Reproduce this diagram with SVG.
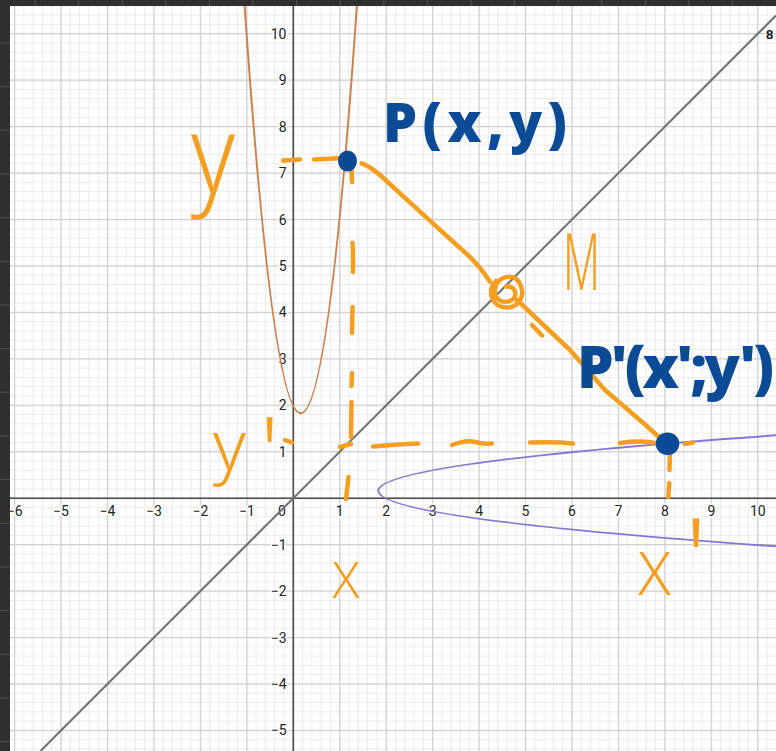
<svg xmlns="http://www.w3.org/2000/svg" width="776" height="751" viewBox="0 0 776 751">
<defs>
<style>
.ax{font-family:"Roboto","Noto Sans",sans-serif;font-size:14px;fill:#222;stroke:#fff;stroke-width:3px;paint-order:stroke;stroke-linejoin:round}
.xl{text-anchor:middle}
.yl{text-anchor:end}
.ink{fill:none;stroke:#f59f22;stroke-width:4.5;stroke-linecap:round;stroke-linejoin:round}
.blue{font-family:"Noto Sans",sans-serif;font-weight:900;fill:#0b4b95}
.orange{font-family:"Noto Sans",sans-serif;font-weight:300;fill:#f59f22}
.dot{fill:#0b4b95}
.div{stroke:#505050;stroke-width:1}
</style>
<pattern id="minor" x="292.8" y="497.7" width="9.29" height="9.29" patternUnits="userSpaceOnUse">
<path d="M0.5,0 V9.29 M0,0.5 H9.29" stroke="#ebebeb" stroke-width="1"/>
</pattern>
<pattern id="major" x="292.7" y="497.6" width="46.45" height="46.45" patternUnits="userSpaceOnUse">
<path d="M0.6,0 V46.45 M0,0.6 H46.45" stroke="#cfcfcf" stroke-width="1.2"/>
</pattern>
</defs>

<g id="grid">
<rect x="0" y="0" width="776" height="751" fill="#ffffff"/>
<rect x="0" y="0" width="776" height="751" fill="url(#minor)"/>
<rect x="0" y="0" width="776" height="751" fill="url(#major)"/>
</g>

<g id="axes">
<line x1="0" y1="498.2" x2="776" y2="498.2" stroke="#4d4d4d" stroke-width="1.6"/>
<line x1="293.3" y1="0" x2="293.3" y2="751" stroke="#4d4d4d" stroke-width="1.6"/>
<g class="ax xl">
<text x="14.6" y="515.5">−6</text>
<text x="61.05" y="515.5">−5</text>
<text x="107.5" y="515.5">−4</text>
<text x="153.95" y="515.5">−3</text>
<text x="200.4" y="515.5">−2</text>
<text x="246.85" y="515.5">−1</text>
<text x="282" y="515.5">0</text>
<text x="339.75" y="515.5">1</text>
<text x="386.2" y="515.5">2</text>
<text x="432.65" y="515.5">3</text>
<text x="479.1" y="515.5">4</text>
<text x="525.55" y="515.5">5</text>
<text x="572" y="515.5">6</text>
<text x="618.45" y="515.5">7</text>
<text x="664.9" y="515.5">8</text>
<text x="711.35" y="515.5">9</text>
<text x="757.8" y="515.5">10</text>
</g>
<g class="ax yl">
<text x="286.5" y="38.7">10</text>
<text x="286.5" y="85.15">9</text>
<text x="286.5" y="131.6">8</text>
<text x="286.5" y="178.05">7</text>
<text x="286.5" y="224.5">6</text>
<text x="286.5" y="270.95">5</text>
<text x="286.5" y="317.4">4</text>
<text x="286.5" y="363.85">3</text>
<text x="286.5" y="410.3">2</text>
<text x="286.5" y="456.75">1</text>
<text x="286.5" y="549.65">−1</text>
<text x="286.5" y="596.1">−2</text>
<text x="286.5" y="642.55">−3</text>
<text x="286.5" y="689">−4</text>
<text x="286.5" y="735.45">−5</text>
</g>
</g>

<g id="curves">
<line id="line-y-eq-x" x1="40.5" y1="751" x2="776" y2="15.5" stroke="#707070" stroke-width="2"/>
<path id="parabola" d="M244.2,0 Q300.7,826.5 357.3,0" fill="none" stroke="#cc8050" stroke-width="2"/>
<path id="reflected-parabola" d="M776,435.3 Q-19.45,490.8 776,546.3" fill="none" stroke="#8676d2" stroke-width="2"/>
</g>

<g id="connectors">
<path class="ink" d="M283,160.5 L300,159.5"/>
<path class="ink" d="M314,159.5 L343,158"/>
<path class="ink" d="M351.5,167 L352,182"/>
<path class="ink" d="M352.5,243 C353.5,255 353,265 353,272"/>
<path class="ink" d="M352.5,307 L352,333"/>
<path class="ink" d="M352,373 L351.5,386"/>
<path class="ink" d="M351.5,402 L351,437"/>
<path class="ink" d="M348.5,477 L346,499"/>
<path class="ink" d="M285,440 L292,442.5"/>
<path class="ink" d="M340,447 L351,444"/>
<path class="ink" d="M373,446.5 C390,445 405,444 418,443.5"/>
<path class="ink" d="M452,445 C460,442 468,440 475,442 C482,444 487,444 492,443.5"/>
<path class="ink" d="M530,442.5 C545,442 560,442 573,443.5"/>
<path class="ink" d="M620,443 C635,441 648,441 657,443.5"/>
<path class="ink" d="M685,444 L693,442.5"/>
<path class="ink" d="M670,450 L669.5,470"/>
<path class="ink" d="M669.3,483 L668.3,497"/>
<path class="ink" d="M361.7,163.3 Q371,167 380,175 L420,211.7 L460,248 Q478,263 490,281.7"/>
<path class="ink" d="M517,300 L570,350 L605,390 L645,424.5 L660,438"/>
<path class="ink" d="M532,325 L542,335.5"/>
</g>

<g id="P">
<ellipse class="dot" cx="347.5" cy="161" rx="9.5" ry="10.5"/>
<text class="blue" x="383" y="142" font-size="54" textLength="184" lengthAdjust="spacing">P(x,y)</text>
</g>

<g id="M">
<path class="ink" d="M496,281 C486,292 493,308 507,307.5 C521,307 526,293 519,282 C513,273 498,276 495,288 C493,299 503,305 512,300 C518,296 516,286 506,286.5"/>
<text class="orange" x="563" y="290" font-size="79" textLength="37" lengthAdjust="spacingAndGlyphs">M</text>
</g>

<g id="P-prime">
<ellipse class="dot" cx="667.5" cy="443.7" rx="11.8" ry="11.3"/>
<text class="blue" x="577" y="388" font-size="58" textLength="197" lengthAdjust="spacing">P'(x';y')</text>
</g>

<g id="labels">
<text class="orange" x="191" y="194" font-size="110" textLength="44" lengthAdjust="spacingAndGlyphs">y</text>
<text class="orange" x="213" y="470" font-size="70">y<tspan x="260" y="486" font-size="96">'</tspan></text>
<text class="orange" x="346" y="598" font-size="50" text-anchor="middle">X</text>
<text class="orange" x="638" y="595" font-size="60">X<tspan x="685" y="597" font-size="110">'</tspan></text>
</g>

<g id="frame">
<rect x="0" y="0" width="776" height="6" fill="#2f2f2f"/>
<rect x="0" y="0" width="10" height="751" fill="#2f2f2f"/>
<path class="div" d="M35,0V6 M78.6,0V6 M122.2,0V6 M165.8,0V6 M209.4,0V6 M253,0V6 M296.6,0V6 M340.2,0V6 M383.8,0V6 M427.4,0V6 M471,0V6 M514.6,0V6 M558.2,0V6 M601.8,0V6 M645.4,0V6 M689,0V6 M732.6,0V6"/>
<path class="div" d="M0,43H10 M0,86.7H10 M0,130.3H10 M0,174H10 M0,217.6H10 M0,261.3H10 M0,305H10 M0,348.6H10 M0,392.3H10 M0,435.9H10 M0,479.6H10 M0,523.3H10 M0,567H10 M0,610.6H10 M0,654.3H10 M0,698H10 M0,741.6H10"/>
<text x="766" y="39" font-family="Liberation Sans, sans-serif" font-weight="bold" font-size="13" fill="#111">8</text>
</g>
</svg>
